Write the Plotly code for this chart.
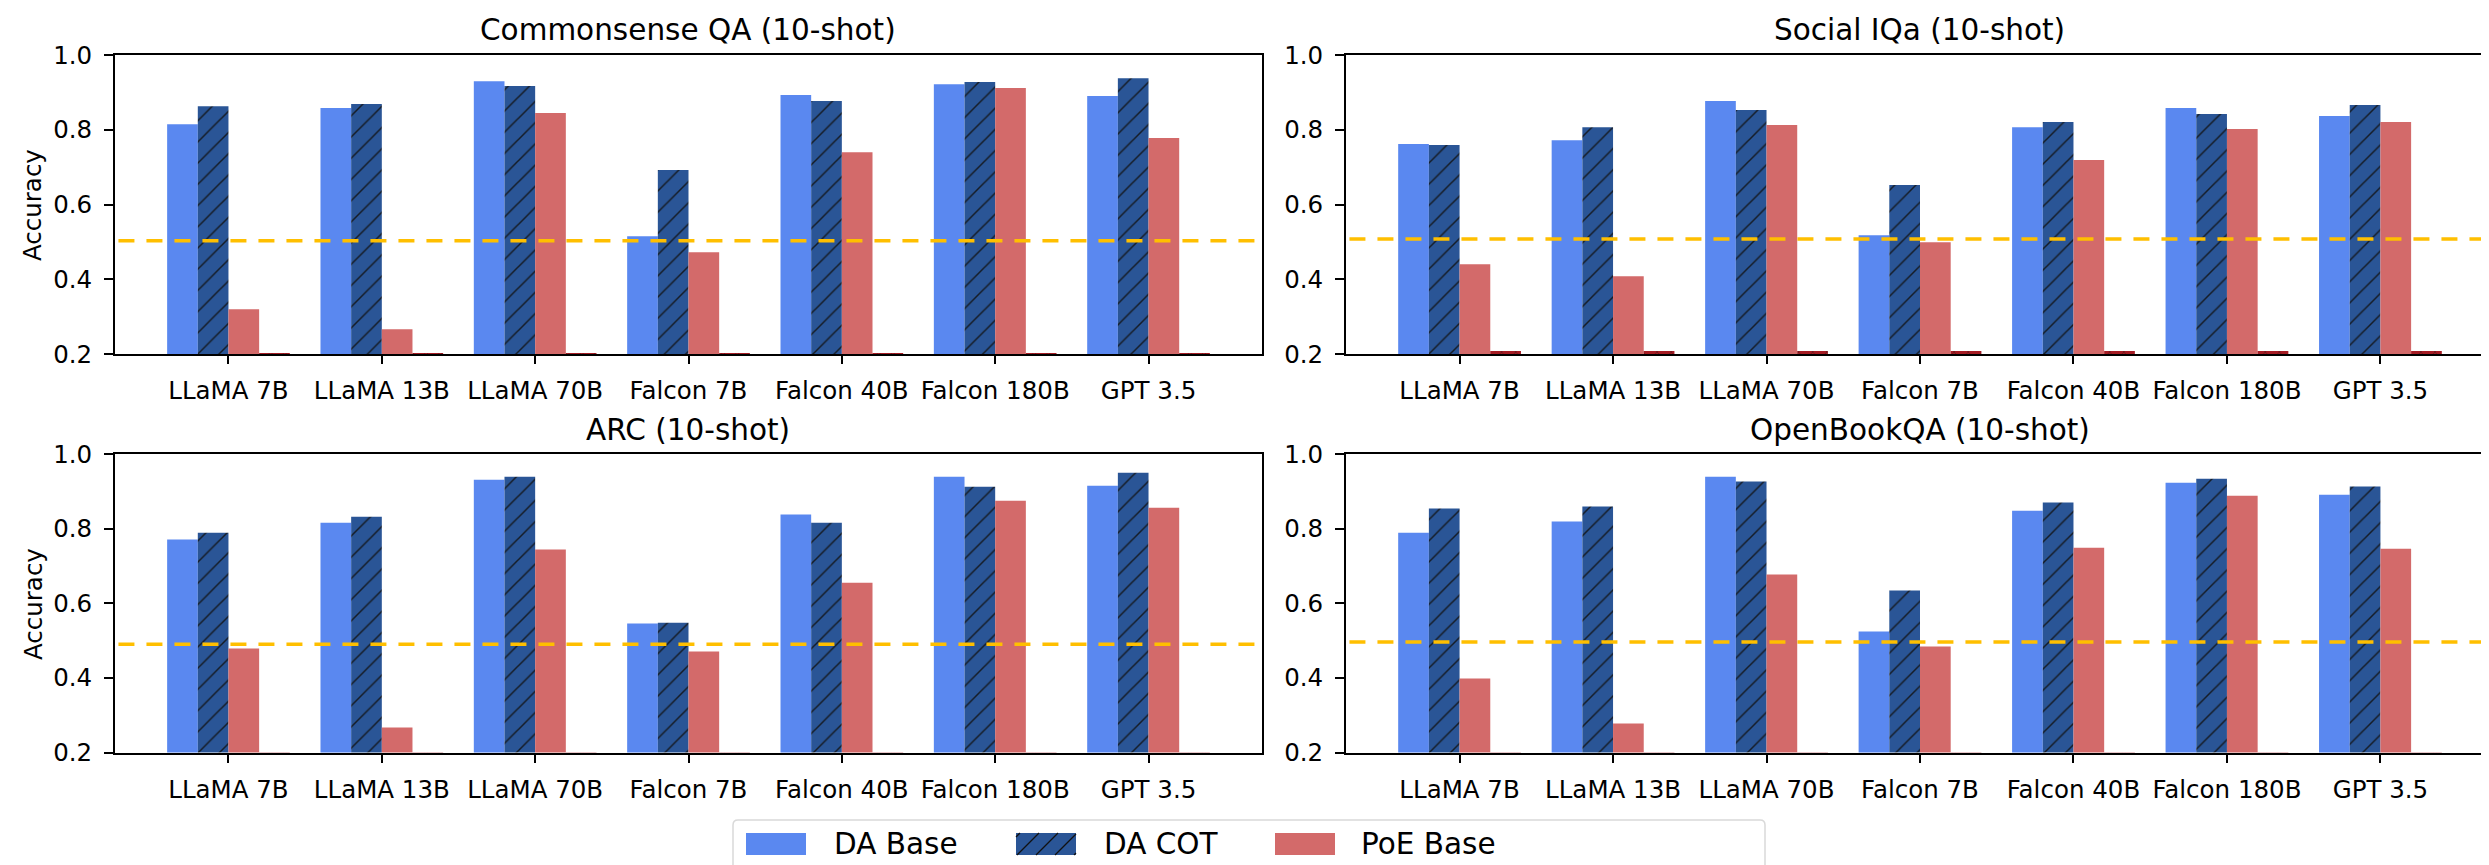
import plotly.graph_objects as go
from plotly.subplots import make_subplots

W, H = 2489, 865

models = ["LLaMA 7B", "LLaMA 13B", "LLaMA 70B", "Falcon 7B", "Falcon 40B", "Falcon 180B", "GPT 3.5"]
series_names = ["DA Base", "DA COT", "PoE Base", "PoE COT"]
y_ticks = [0.2, 0.4, 0.6, 0.8, 1.0]

# Commonsense QA (10-shot)
csqa_da_base = [0.815, 0.858, 0.930, 0.515, 0.893, 0.922, 0.890]
csqa_da_cot = [0.863, 0.869, 0.917, 0.692, 0.877, 0.928, 0.938]
csqa_poe_base = [0.320, 0.266, 0.845, 0.472, 0.740, 0.912, 0.778]
csqa_poe_cot = [0.203, 0.203, 0.203, 0.203, 0.203, 0.203, 0.203]
csqa_ref = 0.503

# Social IQa (10-shot)
siqa_da_base = [0.762, 0.772, 0.877, 0.518, 0.807, 0.858, 0.837]
siqa_da_cot = [0.759, 0.807, 0.853, 0.652, 0.821, 0.842, 0.866]
siqa_poe_base = [0.440, 0.408, 0.813, 0.499, 0.719, 0.802, 0.821]
siqa_poe_cot = [0.208, 0.208, 0.208, 0.208, 0.208, 0.208, 0.208]
siqa_ref = 0.508

# ARC (10-shot)
arc_da_base = [0.771, 0.816, 0.931, 0.546, 0.838, 0.939, 0.915]
arc_da_cot = [0.789, 0.832, 0.939, 0.548, 0.816, 0.912, 0.950]
arc_poe_base = [0.479, 0.267, 0.744, 0.471, 0.655, 0.875, 0.856]
arc_poe_cot = [0.200, 0.200, 0.200, 0.200, 0.200, 0.200, 0.200]
arc_ref = 0.490

# OpenBookQA (10-shot)
obqa_da_base = [0.789, 0.819, 0.939, 0.524, 0.848, 0.923, 0.891]
obqa_da_cot = [0.854, 0.859, 0.926, 0.634, 0.870, 0.934, 0.913]
obqa_poe_base = [0.398, 0.278, 0.677, 0.484, 0.749, 0.888, 0.746]
obqa_poe_cot = [0.200, 0.200, 0.200, 0.200, 0.200, 0.200, 0.200]
obqa_ref = 0.496

panels = [
    ("Commonsense QA (10-shot)", [csqa_da_base, csqa_da_cot, csqa_poe_base, csqa_poe_cot], csqa_ref, 1, 1),
    ("Social IQa (10-shot)", [siqa_da_base, siqa_da_cot, siqa_poe_base, siqa_poe_cot], siqa_ref, 1, 2),
    ("ARC (10-shot)", [arc_da_base, arc_da_cot, arc_poe_base, arc_poe_cot], arc_ref, 2, 1),
    ("OpenBookQA (10-shot)", [obqa_da_base, obqa_da_cot, obqa_poe_base, obqa_poe_cot], obqa_ref, 2, 2),
]

C_BASE = "#5A88F0"
C_COT = "#2A5596"
C_POE = "#D36A6A"
C_POECOT = "#A51C24"
C_REF = "#FFBF00"
FONT = "DejaVu Sans"
TICK_SIZE = 24.5

styles = [
    dict(color=C_BASE),
    dict(color=C_COT, pattern=dict(shape="/", fgcolor="#111111", fgopacity=0.85, size=15, solidity=0.1)),
    dict(color=C_POE),
    dict(color=C_POECOT, pattern=dict(shape="x", fgcolor="#111111", fgopacity=0.6, size=10, solidity=0.1)),
]

fig = make_subplots(rows=2, cols=2)


def px_x(p):
    return p / W


def px_y(p):
    return 1 - p / H


xdom = {1: [px_x(107), px_x(1254)], 2: [px_x(1338), px_x(2486)]}
ydom = {1: [px_y(346), px_y(47)], 2: [px_y(744.5), px_y(446)]}
title_y = {1: 22, 2: 422}
ylab_y = {1: 197, 2: 596}

annotations = []
shapes = []
for title, vals, ref, r, c in panels:
    for name, v, st in zip(series_names, vals, styles):
        fig.add_trace(go.Bar(x=models, y=v, name=name, marker=dict(line=dict(width=0), **st),
                             showlegend=False), row=r, col=c)
    idx = (r - 1) * 2 + c
    xa = "xaxis" if idx == 1 else f"xaxis{idx}"
    ya = "yaxis" if idx == 1 else f"yaxis{idx}"
    xr = "x" if idx == 1 else f"x{idx}"
    yr = "y" if idx == 1 else f"y{idx}"
    fig.layout[xa].update(domain=xdom[c], range=[-0.74, 6.74], showline=True, mirror=True,
                          linecolor="black", linewidth=2, ticks="outside", ticklen=8, tickwidth=1.6,
                          tickcolor="black", ticklabelstandoff=6,
                          tickfont=dict(family=FONT, size=TICK_SIZE, color="black"),
                          showgrid=False, zeroline=False, automargin=False)
    fig.layout[ya].update(domain=ydom[r], range=[0.2, 1.0], tickvals=y_ticks, tickformat=".1f",
                          showline=True, mirror=True, linecolor="black", linewidth=2,
                          ticks="outside", ticklen=9, tickwidth=1.6, tickcolor="black",
                          ticklabelstandoff=7,
                          tickfont=dict(family=FONT, size=TICK_SIZE, color="black"),
                          showgrid=False, zeroline=False, automargin=False)
    shapes.append(dict(type="line", xref=f"{xr} domain", yref=yr, x0=0.003, x1=1, y0=ref, y1=ref,
                       line=dict(color=C_REF, width=3.5, dash="16px,12px"), layer="above"))
    annotations.append(dict(text=title, xref="paper", yref="paper",
                            x=(xdom[c][0] + xdom[c][1]) / 2, y=px_y(title_y[r]),
                            xanchor="center", yanchor="middle", showarrow=False,
                            font=dict(family=FONT, size=29.5, color="black")))
    if c == 1:
        annotations.append(dict(text="Accuracy", xref="paper", yref="paper", x=px_x(25),
                                y=px_y(ylab_y[r]), textangle=-90, xanchor="center", yanchor="middle",
                                showarrow=False, font=dict(family=FONT, size=TICK_SIZE, color="black")))

# manual legend (matplotlib-style frame with rounded corners and wide swatches)
bx0, bx1, by0, by1, rad = 725, 1757, 812, 863, 5
path = (f"M {px_x(bx0 + rad)},{px_y(by0)} L {px_x(bx1 - rad)},{px_y(by0)} "
        f"Q {px_x(bx1)},{px_y(by0)} {px_x(bx1)},{px_y(by0 + rad)} "
        f"L {px_x(bx1)},{px_y(by1 - rad)} Q {px_x(bx1)},{px_y(by1)} {px_x(bx1 - rad)},{px_y(by1)} "
        f"L {px_x(bx0 + rad)},{px_y(by1)} Q {px_x(bx0)},{px_y(by1)} {px_x(bx0)},{px_y(by1 - rad)} "
        f"L {px_x(bx0)},{px_y(by0 + rad)} Q {px_x(bx0)},{px_y(by0)} {px_x(bx0 + rad)},{px_y(by0)} Z")
shapes.append(dict(type="path", xref="paper", yref="paper", path=path,
                   line=dict(color="#D9D9D9", width=1.5), fillcolor="rgba(255,255,255,0.8)",
                   layer="above"))
legend_items = [(738, C_BASE, "DA Base", 824), (1008, C_COT, "DA COT", 1094), (1267, C_POE, "PoE Base", 1351)]
sw_w, sw_top, sw_bot = 60, 825, 847
for x0, col, label, tx in legend_items:
    shapes.append(dict(type="rect", xref="paper", yref="paper", x0=px_x(x0), x1=px_x(x0 + sw_w),
                       y0=px_y(sw_bot), y1=px_y(sw_top), line=dict(width=0), fillcolor=col, layer="above"))
    if label == "DA COT":
        h = sw_bot - sw_top
        cst = x0 - h + 4
        while cst < x0 + sw_w:
            bx, by = cst, sw_bot
            tx2, ty2 = cst + h, sw_top
            if bx < x0:
                by = sw_bot - (x0 - bx)
                bx = x0
            if tx2 > x0 + sw_w:
                ty2 = sw_top + (tx2 - (x0 + sw_w))
                tx2 = x0 + sw_w
            if tx2 > bx:
                shapes.append(dict(type="line", xref="paper", yref="paper", x0=px_x(bx), y0=px_y(by),
                                   x1=px_x(tx2), y1=px_y(ty2), line=dict(color="#111111", width=1.3),
                                   layer="above"))
            cst += 19
    annotations.append(dict(text=label, xref="paper", yref="paper", x=px_x(tx), y=px_y((sw_top + sw_bot) / 2),
                            xanchor="left", yanchor="middle", showarrow=False,
                            font=dict(family=FONT, size=29.5, color="black")))

fig.update_layout(width=W, height=H, margin=dict(l=0, r=0, t=0, b=0), barmode="group",
                  bargap=0.2, bargroupgap=0, plot_bgcolor="white", paper_bgcolor="white",
                  showlegend=False, shapes=shapes, annotations=annotations,
                  font=dict(family=FONT, color="black"))

fig.write_html("out.html")
